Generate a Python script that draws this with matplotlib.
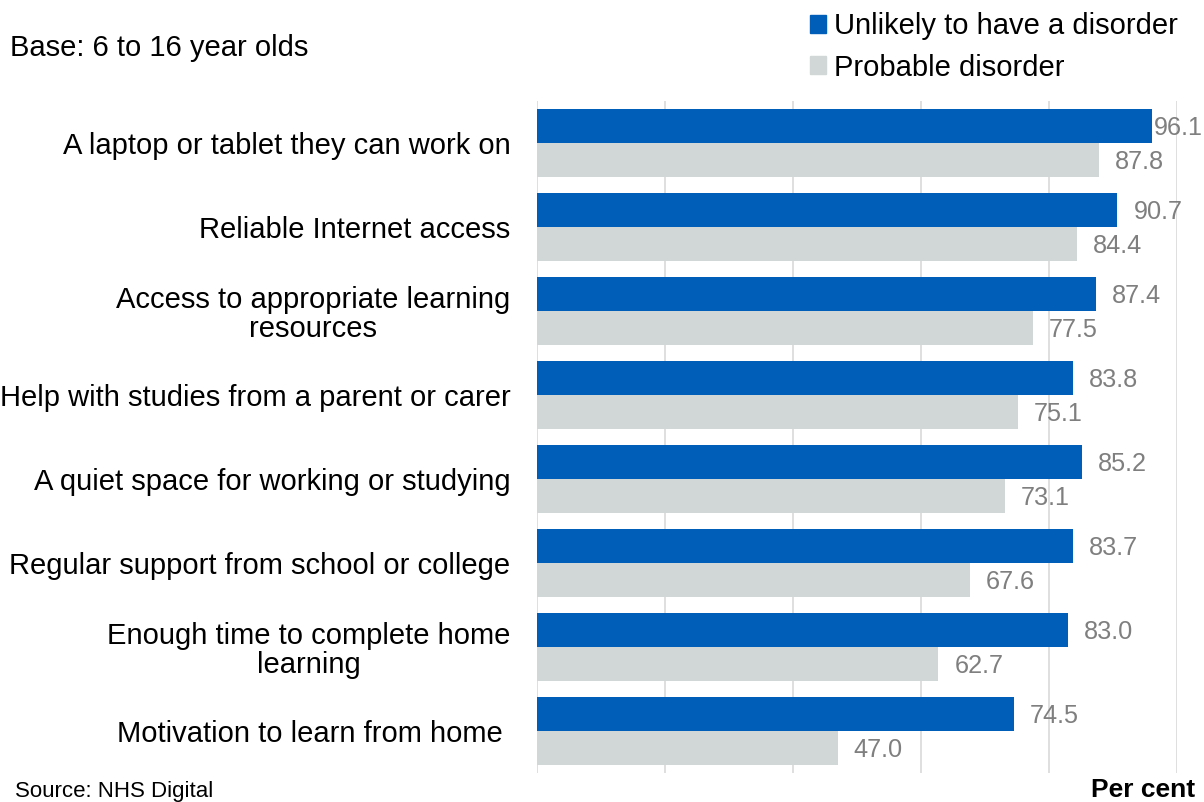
import numpy as np
import matplotlib.pyplot as plt
from matplotlib.patches import Patch

plt.rcParams['font.family'] = ['Liberation Sans', 'DejaVu Sans']

categories = [
    'A laptop or tablet they can work on',
    'Reliable Internet access',
    'Access to appropriate learning\nresources',
    'Help with studies from a parent or carer',
    'A quiet space for working or studying',
    'Regular support from school or college',
    'Enough time to complete home\nlearning',
    'Motivation to learn from home ',
]
unlikely = [96.1, 90.7, 87.4, 83.8, 85.2, 83.7, 83.0, 74.5]
probable = [87.8, 84.4, 77.5, 75.1, 73.1, 67.6, 62.7, 47.0]
series_names = ['Unlikely to have a disorder', 'Probable disorder']

blue = '#005EB8'
grey = '#D1D6D6'
label_grey = '#7F7F7F'

fig = plt.figure(figsize=(12.04, 8.02), dpi=100)
ax = fig.add_axes([537 / 1204, 1 - 773 / 802, 640 / 1204, 672 / 802])

y = np.arange(len(categories))
h = 0.4
b1 = ax.barh(y - h / 2, unlikely, height=h, color=blue, zorder=2)
b2 = ax.barh(y + h / 2, probable, height=h, color=grey, zorder=2)

for bars, vals in ((b1, unlikely), (b2, probable)):
    for bar, v in zip(bars, vals):
        pad = 1.0 if v > 95 else 11.5
        ax.annotate(f'{v:.1f}', (bar.get_width(), bar.get_y() + bar.get_height() / 2),
                    xytext=(pad, -1.5), textcoords='offset points',
                    ha='left', va='center', fontsize=18.2, color=label_grey, zorder=3)

ax.set_xlim(0, 100)
ax.set_ylim(len(categories) - 0.5, -0.5)
ax.set_xticks(np.arange(0, 101, 20))
ax.set_xticklabels([])
ax.tick_params(axis='x', length=0)
ax.grid(axis='x', color='#D9D9D9', linewidth=1.2, zorder=0)
ax.set_yticks(y)
ax.set_yticklabels(categories, fontsize=21, multialignment='center', linespacing=1.05)
ax.tick_params(axis='y', length=0, pad=19)
for s in ax.spines.values():
    s.set_visible(False)

handles = [Patch(color=blue), Patch(color=grey)]
fig.legend(handles, series_names, loc='upper right', bbox_to_anchor=(0.995, 1.01),
           frameon=False, fontsize=21, handlelength=0.55, handleheight=0.55,
           handletextpad=0.25, labelspacing=0.45, borderpad=0.2)

fig.text(10 / 1204, 1 - 48 / 802, 'Base: 6 to 16 year olds', fontsize=21, va='center', ha='left')
fig.text(15 / 1204, 1 - 792 / 802, 'Source: NHS Digital', fontsize=16, va='center', ha='left')
fig.text(1195 / 1204, 1 - 790 / 802, 'Per cent', fontsize=19, fontweight='bold', va='center', ha='right')

fig.savefig('out.png', dpi=100)
